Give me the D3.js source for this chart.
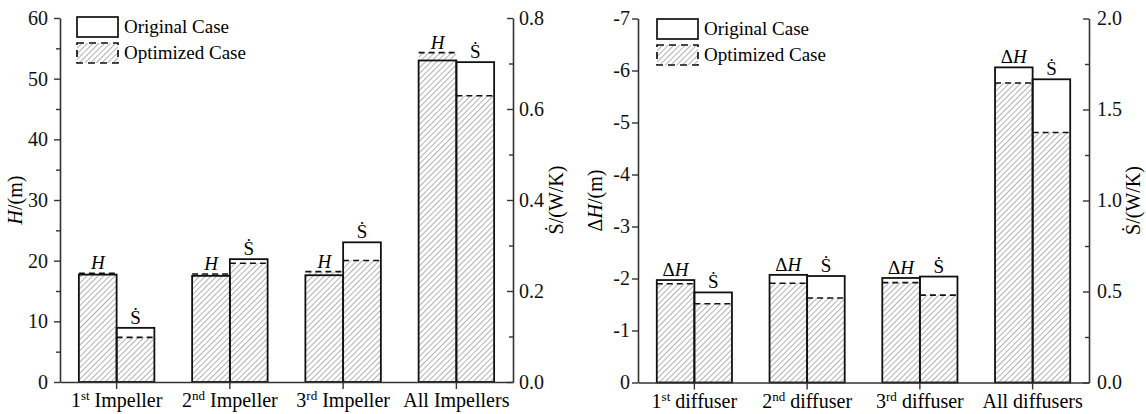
<!DOCTYPE html>
<html>
<head>
<meta charset="utf-8">
<script src="https://cdn.jsdelivr.net/npm/d3@7"></script>
<style>
 body { margin: 0; background: #fff; }
</style>
</head>
<body>
<div id="chart"></div>
<script>
// impeller panel
const impellerLabels = ["1st Impeller", "2nd Impeller", "3rd Impeller", "All Impellers"];
const impHeadOrig = [17.7, 17.5, 17.6, 53.0];
const impHeadOpt = [17.9, 17.8, 18.2, 54.3];
const impEntOrig = [0.119, 0.270, 0.307, 0.703];
const impEntOpt = [0.098, 0.261, 0.267, 0.629];

// diffuser panel
const diffuserLabels = ["1st diffuser", "2nd diffuser", "3rd diffuser", "All diffusers"];
const difHeadOrig = [-1.97, -2.07, -2.01, -6.06];
const difHeadOpt = [-1.90, -1.91, -1.92, -5.76];
const difEntOrig = [0.495, 0.585, 0.582, 1.666];
const difEntOpt = [0.433, 0.464, 0.480, 1.374];

const legendNames = ["Original Case", "Optimized Case"];

const FONT = "Liberation Serif";
const width = 1146, height = 414;
const svg = d3.select("#chart").append("svg")
 .attr("width", width).attr("height", height);

// hatch pattern
svg.append("defs").append("pattern")
 .attr("id", "hatch")
 .attr("patternUnits", "userSpaceOnUse")
 .attr("width", 4).attr("height", 4)
 .attr("patternTransform", "rotate(45)")
 .append("line")
 .attr("x1", 0).attr("y1", 0).attr("x2", 0).attr("y2", 4)
 .attr("stroke", "#555").attr("stroke-width", 0.9);

function drawPanel(p) {
 const g = svg.append("g");

 const x = d3.scaleBand().domain(p.labels).range([p.x0, p.x1])
  .paddingInner(1 / 3).paddingOuter(1 / 6);
 const sub = d3.scaleBand().domain(["h", "s"]).range([0, x.bandwidth()]);
 const yL = d3.scaleLinear().domain(p.leftDomain).range([p.yBottom, p.yTop]);
 const yR = d3.scaleLinear().domain(p.rightDomain).range([p.yBottom, p.yTop]);

 // bars: optimized hatched first, original outline on top
 const rows = p.labels.map((c, i) => ({
  c,
  items: [
   { k: "h", y: yL, orig: p.headOrig[i], opt: p.headOpt[i] },
   { k: "s", y: yR, orig: p.entOrig[i], opt: p.entOpt[i] }
  ]
 }));

 rows.forEach(r => {
  r.items.forEach(d => {
   const bx = x(r.c) + sub(d.k);
   const bw = sub.bandwidth();
   const yo = d.y(d.opt), yg = d.y(d.orig);
   g.append("rect")
    .attr("x", bx).attr("y", yo).attr("width", bw).attr("height", p.yBottom - yo)
    .attr("fill", "url(#hatch)");
   g.append("line")
    .attr("x1", bx).attr("x2", bx + bw).attr("y1", yo).attr("y2", yo)
    .attr("stroke", "#111").attr("stroke-width", 1.6)
    .attr("stroke-dasharray", "6,4");
   g.append("rect")
    .attr("x", bx).attr("y", yg).attr("width", bw).attr("height", p.yBottom - yg)
    .attr("fill", "none").attr("stroke", "#111").attr("stroke-width", 1.8);

   const top = Math.min(yo, yg);
   const t = g.append("text")
    .attr("x", bx + bw / 2).attr("y", top - 4)
    .attr("text-anchor", "middle").style("font-size", "19px");
   if (d.k === "h") {
    if (p.delta) t.append("tspan").text("Δ");
    t.append("tspan").attr("font-style", "italic").text("H");
   } else {
    t.text("Ṡ");
   }
  });
 });

 // left axis
 const axL = d3.axisLeft(yL).tickValues(p.leftTicks).tickSize(6).tickSizeOuter(0)
  .tickPadding(p.leftPad).tickFormat(p.leftFmt);
 const gl = g.append("g").attr("transform", `translate(${p.x0},0)`).call(axL);
 g.append("g").attr("transform", `translate(${p.x0},0)`)
  .call(d3.axisLeft(yL).tickValues(p.leftMinor).tickSize(4).tickSizeOuter(0).tickFormat(""))
  .select(".domain").remove();

 // right axis (ticks point inward)
 const axR = d3.axisRight(yR).tickValues(p.rightTicks).tickSize(-6).tickSizeOuter(0)
  .tickPadding(p.rightPad).tickFormat(d3.format(".1f"));
 const gr = g.append("g").attr("transform", `translate(${p.x1},0)`).call(axR);
 g.append("g").attr("transform", `translate(${p.x1},0)`)
  .call(d3.axisRight(yR).tickValues(p.rightMinor).tickSize(-4).tickSizeOuter(0).tickFormat(""))
  .select(".domain").remove();

 // bottom axis
 const gb = g.append("g").attr("transform", `translate(0,${p.yBottom})`)
  .call(d3.axisBottom(x).tickSize(7).tickSizeOuter(0).tickFormat(""));

 [gl, gr, gb].forEach(a => {
  a.selectAll("text").style("font-size", "20px").attr("fill", "#111");
  a.select(".domain").attr("stroke", "#333").attr("stroke-width", 1.6);
 });
 g.selectAll(".tick line").attr("stroke", "#333").attr("stroke-width", 1.4);

 // category labels with superscripts
 p.labels.forEach(lab => {
  const m = lab.match(/^(\d)(st|nd|rd) (.*)$/);
  const t = g.append("text")
   .attr("x", x(lab) + x.bandwidth() / 2).attr("y", p.yBottom + 25)
   .attr("text-anchor", "middle").style("font-size", "20px");
  if (m) {
   t.append("tspan").text(m[1]);
   t.append("tspan").attr("dy", -7).style("font-size", "13px").text(m[2]);
   t.append("tspan").attr("dy", 7).text(" " + m[3]);
  } else {
   t.text(lab);
  }
 });

 // axis titles
 const cy = (p.yTop + p.yBottom) / 2;
 const tl = g.append("text")
  .attr("transform", `translate(${p.leftTitleX},${cy}) rotate(-90)`)
  .attr("text-anchor", "middle").style("font-size", "20px");
 if (p.delta) tl.append("tspan").text("Δ");
 tl.append("tspan").attr("font-style", "italic").text("H");
 tl.append("tspan").text("/(m)");

 g.append("text")
  .attr("transform", `translate(${p.rightTitleX},${cy}) rotate(-90)`)
  .attr("text-anchor", "middle").style("font-size", "20px")
  .text("Ṡ/(W/K)");

 // legend
 legendNames.forEach((name, i) => {
  const ly = p.legY + i * 26;
  g.append("rect")
   .attr("x", p.legX).attr("y", ly).attr("width", 41).attr("height", 20)
   .attr("fill", i === 0 ? "none" : "url(#hatch)")
   .attr("stroke", "#111").attr("stroke-width", 1.7)
   .attr("stroke-dasharray", i === 0 ? null : "7,5");
  g.append("text")
   .attr("x", p.legX + 47).attr("y", ly + 16)
   .style("font-size", "19px").text(name);
 });
}

drawPanel({
 labels: impellerLabels,
 headOrig: impHeadOrig, headOpt: impHeadOpt,
 entOrig: impEntOrig, entOpt: impEntOpt,
 x0: 60, x1: 513, yTop: 18, yBottom: 382,
 leftDomain: [0, 60], leftTicks: d3.range(0, 61, 10), leftMinor: d3.range(5, 60, 10),
 leftFmt: d => String(d), leftPad: 6, rightPad: 6,
 rightDomain: [0, 0.8], rightTicks: [0, 0.2, 0.4, 0.6, 0.8], rightMinor: [0.1, 0.3, 0.5, 0.7],
 delta: false, leftTitleX: 22, rightTitleX: 563,
 legX: 77, legY: 17
});

drawPanel({
 labels: diffuserLabels,
 headOrig: difHeadOrig, headOpt: difHeadOpt,
 entOrig: difEntOrig, entOpt: difEntOpt,
 x0: 638, x1: 1089, yTop: 18.5, yBottom: 382.5,
 leftDomain: [0, -7], leftTicks: d3.range(0, -8, -1), leftMinor: [],
 leftFmt: d => String(d), leftPad: 2, rightPad: 8,
 rightDomain: [0, 2], rightTicks: [0, 0.5, 1, 1.5, 2], rightMinor: [0.25, 0.75, 1.25, 1.75],
 delta: true, leftTitleX: 602, rightTitleX: 1140,
 legX: 657, legY: 19
});

// serif everywhere (d3 axes set their own sans-serif)
svg.selectAll("g").attr("font-family", null);
svg.selectAll("text").style("font-family", FONT);
</script>
</body>
</html>
